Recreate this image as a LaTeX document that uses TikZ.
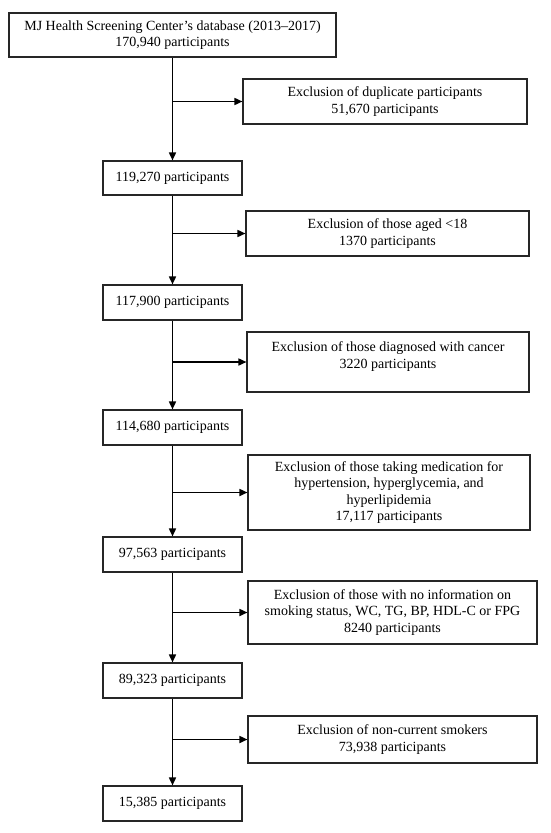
\documentclass[tikz,border=0pt]{standalone}
\usepackage{fontspec}
\setmainfont{Liberation Serif}
\usetikzlibrary{arrows.meta}

\begin{document}
\begin{tikzpicture}[x=1pt,y=1pt]

        \useasboundingbox (0,0) rectangle (550,-833);

        \begin{scope}[every node/.style={rectangle,draw=black!85,line width=1.1pt,inner sep=0pt,align=center,font=\fontsize{14}{16.4}\selectfont}]
          % main stream
          \node[minimum width=327pt,minimum height=44pt] (db) at (172.5,-35)
            {MJ Health Screening Center’s database (2013–2017)\\170,940 participants};
          \node[minimum width=139pt,minimum height=34pt] (p1) at (172.5,-178)   {119,270 participants};
          \node[minimum width=139pt,minimum height=35pt] (p2) at (172.5,-302.5) {117,900 participants};
          \node[minimum width=139pt,minimum height=35pt] (p3) at (172.5,-427.5) {114,680 participants};
          \node[minimum width=139pt,minimum height=35pt] (p4) at (172.5,-554.5) {97,563 participants};
          \node[minimum width=139pt,minimum height=35pt] (p5) at (172.5,-680.5) {89,323 participants};
          \node[minimum width=139pt,minimum height=35pt] (p6) at (172.5,-803.5) {15,385 participants};

          % exclusions
          \node[minimum width=284pt,minimum height=45pt] (ex1) at (385,-101.5)
            {Exclusion of duplicate participants\\51,670 participants};
          \node[minimum width=283pt,minimum height=45pt] (ex2) at (387.5,-233.5)
            {Exclusion of those aged <18\\1370 participants};
          \node[minimum width=282pt,minimum height=60pt,text depth=14pt] (ex3) at (388,-362)
            {Exclusion of those diagnosed with cancer\\3220 participants};
          \node[minimum width=282pt,minimum height=75pt] (ex4) at (389,-492.5)
            {Exclusion of those taking medication for\\hypertension, hyperglycemia, and\\hyperlipidemia\\17,117 participants};
          \node[minimum width=289pt,minimum height=63pt] (ex5) at (392.5,-612.5)
            {Exclusion of those with no information on\\smoking status, WC, TG, BP, HDL-C or FPG\\8240 participants};
          \node[minimum width=289pt,minimum height=47pt] (ex6) at (392.5,-739.5)
            {Exclusion of non-current smokers\\73,938 participants};
        \end{scope}

        % branch points on the main line
        \coordinate (b1) at (ex1.west -| db.south);
        \coordinate (b2) at (ex2.west -| p1.south);
        \coordinate (b3) at (ex3.west -| p2.south);
        \coordinate (b4) at (ex4.west -| p3.south);
        \coordinate (b5) at (ex5.west -| p4.south);
        \coordinate (b6) at (ex6.west -| p5.south);

        \begin{scope}[every edge/.style={draw,line width=1.6pt,-{Triangle[length=8pt,width=7pt]}}]
          \path (db) edge (p1);
          \path (p1) edge (p2);
          \path (p2) edge (p3);
          \path (p3) edge (p4);
          \path (p4) edge (p5);
          \path (p5) edge (p6);
          \path (b1) edge (ex1);
          \path (b2) edge (ex2);
          \path (b3) edge (ex3);
          \path (b4) edge (ex4);
          \path (b5) edge (ex5);
          \path (b6) edge (ex6);
        \end{scope}

      \end{tikzpicture}
\end{document}
